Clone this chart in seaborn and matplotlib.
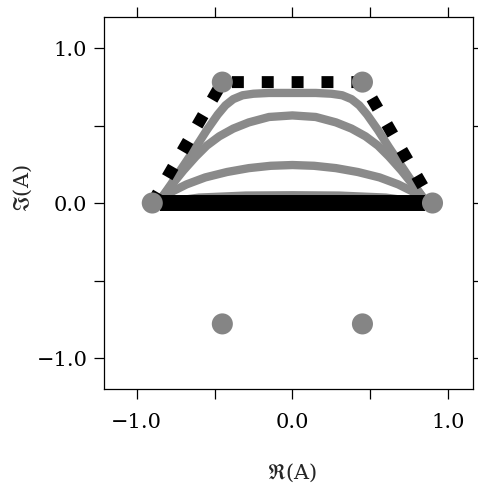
import numpy as np
import pandas as pd
import seaborn as sns
import matplotlib.pyplot as plt

# gray curves
curve_a_x = [-0.85, -0.78, -0.70, -0.62, -0.55, -0.48, -0.43, -0.38, -0.32, -0.25, -0.15, 0.0,
             0.15, 0.25, 0.32, 0.38, 0.43, 0.48, 0.55, 0.62, 0.70, 0.78, 0.85]
curve_a_y = [0.02, 0.12, 0.24, 0.36, 0.47, 0.57, 0.63, 0.67, 0.695, 0.705, 0.71, 0.71,
             0.71, 0.705, 0.695, 0.67, 0.63, 0.57, 0.47, 0.36, 0.24, 0.12, 0.02]
curve_b_x = [-0.85, -0.78, -0.70, -0.62, -0.55, -0.47, -0.38, -0.28, -0.15, 0.0,
             0.15, 0.28, 0.38, 0.47, 0.55, 0.62, 0.70, 0.78, 0.85]
curve_b_y = [0.02, 0.11, 0.21, 0.30, 0.37, 0.43, 0.48, 0.52, 0.555, 0.565,
             0.555, 0.52, 0.48, 0.43, 0.37, 0.30, 0.21, 0.11, 0.02]
curve_c_x = [-0.85, -0.78, -0.68, -0.56, -0.42, -0.28, -0.14, 0.0, 0.14, 0.28, 0.42, 0.56, 0.68, 0.78, 0.85]
curve_c_y = [0.02, 0.07, 0.12, 0.165, 0.20, 0.225, 0.24, 0.245, 0.24, 0.225, 0.20, 0.165, 0.12, 0.07, 0.02]
curve_d_x = [-0.85, -0.60, -0.30, 0.0, 0.30, 0.60, 0.85]
curve_d_y = [0.0, 0.035, 0.048, 0.05, 0.048, 0.035, 0.0]

# black segment on the real axis
bar_x = [-0.85, 0.85]
bar_y = [0.0, 0.0]

# dashed hexagon half
dash_x = [-0.9, -0.45, 0.45, 0.9]
dash_y = [0.0, 0.78, 0.78, 0.0]

# gray dots
dots_x = [0.9, 0.45, -0.45, -0.9, -0.45, 0.45]
dots_y = [0.0, 0.78, 0.78, 0.0, -0.78, -0.78]

sns.set_style("ticks")
plt.rcParams['font.family'] = ['DejaVu Serif']
plt.rcParams['mathtext.fontset'] = 'stix'

fig = plt.figure(figsize=(4.78, 4.83), dpi=100)
ax = fig.add_axes([0.2176, 0.1946, 0.7719, 0.7702])

gray = '#8a8a8a'
for cx, cy in [(curve_a_x, curve_a_y), (curve_b_x, curve_b_y), (curve_c_x, curve_c_y), (curve_d_x, curve_d_y)]:
    sns.lineplot(x=cx, y=cy, sort=False, estimator=None, color=gray, lw=6, ax=ax,
                 solid_capstyle='round', solid_joinstyle='round')

sns.lineplot(x=bar_x, y=bar_y, sort=False, estimator=None, color='black', lw=11.5, ax=ax,
             solid_capstyle='butt')

ln = sns.lineplot(x=dash_x, y=dash_y, sort=False, estimator=None, color='black', lw=8.6, ax=ax)
ln.lines[-1].set_dashes((1.0, 1.5))
ln.lines[-1].set_dash_capstyle('butt')

sns.scatterplot(x=dots_x, y=dots_y, color='#858585', s=230, edgecolor='none', ax=ax, zorder=5)

ax.set_xlim(-1.21, 1.16)
ax.set_ylim(-1.2, 1.2)
ticks = [-1.0, -0.5, 0.0, 0.5, 1.0]
labels = ['\u22121.0', '', '0.0', '', '1.0']
ax.set_xticks(ticks)
ax.set_xticklabels(labels)
ax.set_yticks(ticks)
ax.set_yticklabels(labels)
ax.tick_params(axis='both', direction='out', length=7, width=0.9, labelsize=15,
               top=True, right=True, colors='black')
ax.tick_params(axis='x', pad=10)
ax.tick_params(axis='y', pad=5)
ax.tick_params(axis='y', right=True, length=4)
ax.tick_params(axis='y', left=True, length=7)
for s in ax.spines.values():
    s.set_linewidth(0.9)
    s.set_color('black')

ax.set_xlabel(r'$\Re$(A)', fontsize=15)
ax.set_ylabel(r'$\Im$(A)', fontsize=15)
ax.xaxis.set_label_coords(0.509, -0.195)
ax.yaxis.set_label_coords(-0.19, 0.54)

fig.savefig('out.png', dpi=100)
